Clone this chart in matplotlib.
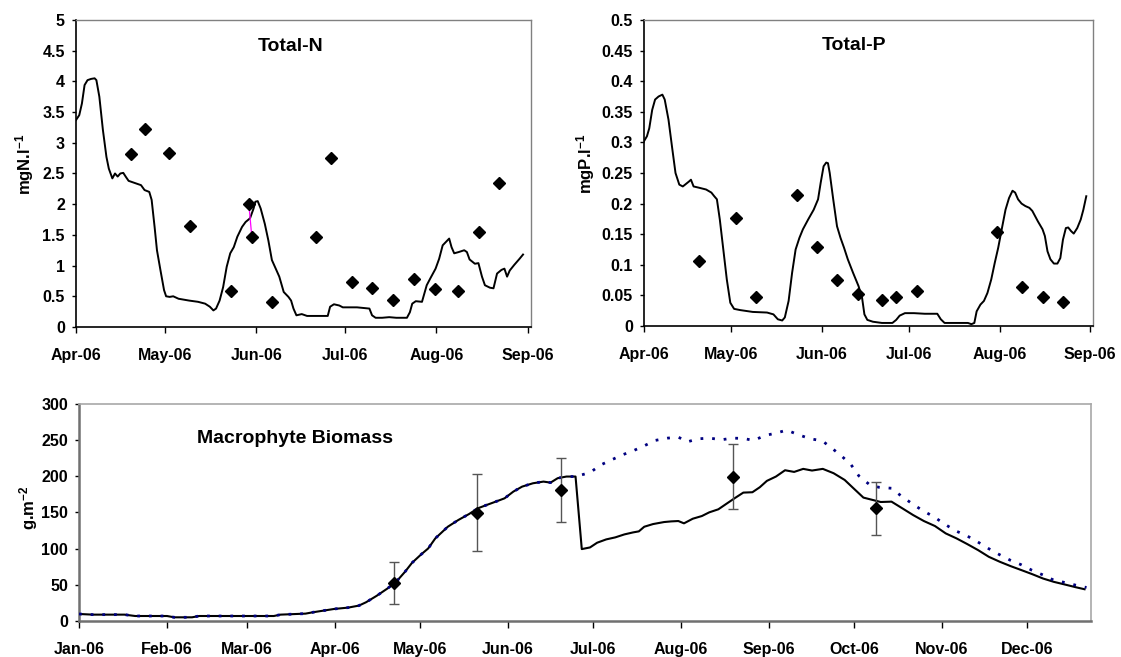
import numpy as np
import matplotlib
matplotlib.use("Agg")
import matplotlib.pyplot as plt
import matplotlib.dates as mdates
from datetime import datetime

plt.rcParams['font.family'] = ['Liberation Sans', 'DejaVu Sans']
plt.rcParams['font.weight'] = 'bold'
plt.rcParams['mathtext.fontset'] = 'custom'
plt.rcParams['mathtext.rm'] = 'Liberation Sans:bold'
plt.rcParams['mathtext.it'] = 'Liberation Sans:bold'
plt.rcParams['mathtext.bf'] = 'Liberation Sans:bold'
plt.rcParams['mathtext.default'] = 'rm'

# ---------------- Total-N (days after 1 Apr 2006) ----------------
tn_model_days = [0, 1.1, 2, 2.9, 3.9, 5.1, 6.3, 6.9, 7.9, 9.1, 10.3, 11.1, 12.3, 13.2, 14.1, 15.0,
                 16.0, 16.8, 17.8, 20.2, 22.0, 23.2, 24.8, 25.6, 26.6, 27.4, 28.6, 29.8, 30.5, 31.7,
                 32.9, 34.7, 38.3, 41.3, 43.7, 45.3, 46.5, 47.4, 48.6, 49.8, 51.0, 52.2, 53.4, 54.6,
                 56.2, 57.4, 58.9, 60.1, 60.7, 61.5, 62.5, 63.9, 65.1, 66.3, 67.6, 68.8, 70.3, 71.9,
                 72.8, 73.6, 74.6, 76.4, 78.2, 83.0, 85.2, 86.0, 87.3, 89.1, 90.3, 95.1, 99.3, 100.2,
                 101.4, 103.6, 106.0, 108.4, 112.0, 113.0, 113.8, 115.0, 117.1, 118.7, 119.9, 121.7,
                 122.9, 124.1, 125.3, 126.3, 127.1, 128.0, 129.5, 131.4, 132.3, 133.2, 135.0, 136.2,
                 137.4, 138.4, 140.1, 141.3, 142.5, 144.0, 145.0, 145.9, 146.8, 148.3, 150.1, 151.3]
tn_model = [3.37, 3.45, 3.64, 3.94, 4.02, 4.04, 4.05, 4.02, 3.75, 3.21, 2.77, 2.58, 2.42, 2.50, 2.45, 2.50,
            2.51, 2.45, 2.38, 2.34, 2.31, 2.23, 2.20, 2.07, 1.63, 1.25, 0.92, 0.60, 0.50, 0.49,
            0.50, 0.46, 0.43, 0.41, 0.38, 0.33, 0.27, 0.30, 0.43, 0.65, 0.98, 1.20, 1.30, 1.47,
            1.63, 1.71, 1.77, 1.93, 2.04, 2.05, 1.93, 1.68, 1.41, 1.09, 0.95, 0.82, 0.57, 0.49,
            0.43, 0.30, 0.19, 0.21, 0.18, 0.18, 0.18, 0.33, 0.37, 0.35, 0.32, 0.32, 0.30, 0.19,
            0.15, 0.15, 0.16, 0.15, 0.15, 0.24, 0.38, 0.42, 0.41, 0.68, 0.79, 0.95,
            1.11, 1.33, 1.39, 1.44, 1.30, 1.20, 1.22, 1.25, 1.22, 1.10, 1.03, 1.04,
            0.82, 0.68, 0.64, 0.63, 0.87, 0.93, 0.95, 0.82, 0.92, 1.01, 1.11, 1.18]
tn_obs_days = [18.5, 23.4, 31.5, 38.7, 52.3, 58.5, 59.5, 66.3, 81.1, 86.3, 93.4, 100.2, 107.3,
               114.3, 121.5, 129.2, 136.4, 143.2]
tn_obs = [2.82, 3.22, 2.84, 1.64, 0.59, 2.00, 1.47, 0.40, 1.46, 2.76, 0.74, 0.63, 0.44,
          0.78, 0.62, 0.59, 1.55, 2.35]

# ---------------- Total-P (days after 1 Apr 2006) ----------------
tp_model_days = [0, 1.0, 1.8, 2.8, 3.8, 5.0, 6.3, 7.1, 8.4, 9.6, 10.8, 12.1, 13.3, 14.1, 15.4, 16.1,
                 17.0, 18.8, 21.3, 23.1, 24.1, 25.0, 26.0, 27.2, 28.4, 29.6, 30.9, 33.0, 37.3, 42.2,
                 44.4, 45.9, 47.4, 48.3, 49.6, 50.8, 52.0, 53.3, 54.5, 56.3, 58.2, 59.7, 60.6, 61.6,
                 62.5, 63.1, 63.7, 64.9, 66.2, 67.4, 68.6, 69.9, 71.7, 73.6, 74.8, 75.6, 76.6, 78.5,
                 81.6, 85.2, 86.5, 87.7, 89.5, 92.6, 96.3, 100.6, 101.8, 103.1, 106.1, 111.1, 112.3,
                 113.3, 114.1, 115.4, 116.6, 117.8, 119.1, 120.3, 121.5, 122.7, 124.0, 125.2, 126.4,
                 127.3, 128.3, 129.5, 130.8, 132.2, 133.2, 135.1, 136.7, 137.5, 138.4, 139.4, 140.6,
                 141.8, 142.8, 143.7, 144.7, 145.5, 146.5, 147.4, 148.6, 149.8, 150.7, 151.7]
tp_model = [0.302, 0.310, 0.323, 0.353, 0.370, 0.375, 0.378, 0.370, 0.337, 0.293, 0.250, 0.231, 0.228,
            0.231, 0.236, 0.239, 0.228, 0.226, 0.223, 0.218, 0.212, 0.207, 0.174, 0.125, 0.076, 0.038,
            0.028, 0.026, 0.023, 0.022, 0.019, 0.011, 0.009, 0.014, 0.041, 0.087, 0.125, 0.144, 0.158,
            0.174, 0.190, 0.207, 0.234, 0.261, 0.267, 0.266, 0.250, 0.207, 0.163, 0.144, 0.128, 0.109,
            0.087, 0.065, 0.046, 0.019, 0.010, 0.007, 0.005, 0.005, 0.010, 0.017, 0.021, 0.021, 0.020,
            0.020, 0.011, 0.005, 0.005, 0.005, 0.003, 0.005, 0.024, 0.035, 0.041, 0.054, 0.076, 0.103,
            0.128, 0.158, 0.190, 0.209, 0.221, 0.218, 0.207, 0.200, 0.196, 0.193, 0.188, 0.171, 0.158,
            0.147, 0.122, 0.109, 0.102, 0.102, 0.111, 0.141, 0.160, 0.161, 0.155, 0.151, 0.160, 0.174,
            0.190, 0.212]
tp_obs_days = [18.7, 31.5, 38.5, 52.4, 59.3, 66.3, 73.3, 81.5, 86.6, 93.5, 121.2, 129.5, 136.7, 143.7]
tp_obs = [0.107, 0.177, 0.048, 0.214, 0.129, 0.075, 0.052, 0.043, 0.047, 0.057, 0.154, 0.064,
          0.048, 0.040]

# ---------------- Macrophyte biomass (days after 1 Jan 2006) ----------------
bm_common_days = [0, 4.8, 9.8, 16, 19.8, 31, 33.5, 39.8, 42.3, 68.6, 71, 79.8, 82.3, 89.8, 94.8,
                  98.6, 101.1, 104.8, 108.6, 111.7, 114.8, 117.3, 120.5, 123, 125.5, 129.9, 133.6,
                  137.4, 140.5, 143.6, 147.4, 149.9, 153, 156.1, 159.9, 163.6, 166.1, 168.6, 171.7,
                  174.9]
bm_common = [9.7, 8.8, 8.8, 8.8, 6.9, 6.9, 5.1, 5.1, 6.9, 6.9, 8.8, 10.2, 12.0, 16.6, 18.5,
             21.3, 25.9, 34.7, 44.8, 54.1, 67.9, 80.4, 92.0, 100.3, 114.2, 130.3, 139.6,
             147.9, 155.8, 160.4, 165.9, 169.6, 178.9, 185.8, 190.4, 192.7, 191.3, 197.4, 199.7,
             199.7]
# simulation with harvest (solid)
bm_harvest_days = [177.1, 180, 182.5, 185.7, 188.9, 192.1, 195.2, 197.2, 199.1, 202.2, 206.1, 208.6,
                   211.1, 213.1, 216.2, 219.4, 222, 225.2, 228.3, 230.9, 234, 237.2, 239.8, 242.3,
                   245.5, 248.7, 251.9, 255.1, 258.2, 262, 265.8, 269.7, 272.8, 276.3, 278.6, 282.4,
                   286.2, 290, 293.8, 297.6, 301.5, 305.3, 309.1, 312.9, 316.7, 320.5, 324.4, 328.2,
                   332, 335.8, 339.6, 343.4, 347.3, 351.1, 354.2]
bm_harvest = [99.4, 101.7, 108.2, 112.8, 115.6, 119.7, 122.5, 123.9, 130.3, 134.0, 136.8, 137.7,
              138.2, 135.0, 141.4, 145.1, 150.2, 154.4, 162.7, 169.6, 177.5, 178.0, 184.9, 193.7,
              199.7, 208.4, 206.1, 210.3, 208.0, 210.3, 204.3, 195.0, 183.5, 170.6, 168.3, 164.5,
              165.0, 155.8, 146.5, 138.2, 131.3, 121.1, 114.2, 106.3, 98.0, 88.7, 81.8, 75.8,
              70.3, 64.7, 58.7, 54.1, 50.4, 46.7, 43.9]
# simulation without harvest (dotted)
bm_noharvest_days = [180, 183.8, 187.6, 191.4, 195.2, 199.1, 202.9, 207.3, 211.1, 214.3, 218.1, 222.3,
                     226.2, 230.2, 234, 237.6, 241.7, 245.5, 249.3, 253.4, 257.6, 261.8, 265.2, 268.8,
                     272, 274.7, 278.6, 281.7, 286.2, 289.6, 293.6, 297.4, 301.1, 304.9, 308.7, 312.7,
                     316.5, 320.3, 324.1, 328, 331.7, 335.6, 339.7, 343.4, 347.3, 351.1, 354.9]
bm_noharvest = [205.2, 215.8, 222.8, 229.7, 235.3, 242.2, 249.6, 252.8, 254.2, 247.7, 251.9, 252.8,
                250.5, 252.8, 252.4, 249.6, 256.5, 259.7, 263.9, 257.5, 251.9, 249.1, 238.9, 227.4,
                215.8, 200.6, 188.1, 184.9, 183.5, 172.9, 161.8, 152.1, 144.2, 134.0, 124.8, 117.9,
                109.5, 100.3, 92.0, 84.1, 78.1, 70.3, 63.4, 56.4, 53.2, 49.5, 46.3]
bm_obs_days = [110.8, 140.2, 169.8, 230.4, 280.7]
bm_obs = [52.7, 149.8, 181.2, 199.2, 155.8]
bm_obs_err = [29, 53, 44, 45, 37]


def to_dates(base, days):
    return mdates.date2num(base) + np.asarray(days, dtype=float)


apr1 = datetime(2006, 4, 1)
jan1 = datetime(2006, 1, 1)

fig = plt.figure(figsize=(11.21, 6.57), dpi=100)
ax_n = fig.add_axes([0.0678, 0.5023, 0.4059, 0.4673])
ax_p = fig.add_axes([0.5745, 0.5038, 0.4005, 0.4658])
ax_b = fig.add_axes([0.0705, 0.0548, 0.9028, 0.3303])

tick_font = dict(fontsize=11.5, fontweight='bold')


def style_top(ax):
    for side in ('left', 'bottom'):
        ax.spines[side].set_color('black')
        ax.spines[side].set_linewidth(1.2)
    for side in ('top', 'right'):
        ax.spines[side].set_color('#808080')
        ax.spines[side].set_linewidth(1.0)
    ax.tick_params(axis='x', direction='out', length=4, width=1, pad=11, labelsize=11.5)
    ax.tick_params(axis='y', direction='out', length=3, width=1, pad=5, labelsize=11.5)
    ax.xaxis.set_major_locator(mdates.MonthLocator())
    ax.xaxis.set_major_formatter(mdates.DateFormatter('%b-%y'))
    ax.set_xlim(to_dates(apr1, [0, 154]))
    for lab in ax.get_xticklabels() + ax.get_yticklabels():
        lab.set_fontweight('bold')


def fmt_num(v, _pos=None):
    s = ('%.2f' % v).rstrip('0').rstrip('.')
    return s


# Total-N
ax_n.plot(to_dates(apr1, tn_model_days), tn_model, color='black', lw=1.4, zorder=2)
obs_n_x = to_dates(apr1, tn_obs_days)
for i in range(len(tn_obs_days) - 1):
    if tn_obs_days[i + 1] - tn_obs_days[i] <= 1.5:
        ax_n.plot(obs_n_x[i:i + 2], tn_obs[i:i + 2], color='#FF00FF', lw=0.9, zorder=3)
ax_n.plot(obs_n_x, tn_obs, linestyle='none', marker='D', ms=6.5, color='black', zorder=4)
ax_n.set_ylim(0, 5)
ax_n.set_yticks(np.arange(0, 5.01, 0.5))
ax_n.yaxis.set_major_formatter(plt.FuncFormatter(fmt_num))
style_top(ax_n)
ax_n.text(0.471, 0.914, 'Total-N', transform=ax_n.transAxes, ha='center', va='center',
          fontsize=14, fontweight='bold')
ax_n.set_ylabel(r'mgN.l$^{-1}$', fontsize=12, fontweight='bold', va='center')
ax_n.yaxis.set_label_coords(-0.112, 0.53)

# Total-P
ax_p.plot(to_dates(apr1, tp_model_days), tp_model, color='black', lw=1.4, zorder=2)
ax_p.plot(to_dates(apr1, tp_obs_days), tp_obs, linestyle='none', marker='D', ms=6.5,
          color='black', zorder=4)
ax_p.set_ylim(0, 0.5)
ax_p.set_yticks(np.arange(0, 0.501, 0.05))
ax_p.yaxis.set_major_formatter(plt.FuncFormatter(fmt_num))
style_top(ax_p)
ax_p.text(0.468, 0.915, 'Total-P', transform=ax_p.transAxes, ha='center', va='center',
          fontsize=14, fontweight='bold')
ax_p.set_ylabel(r'mgP.l$^{-1}$', fontsize=12, fontweight='bold', va='center')
ax_p.yaxis.set_label_coords(-0.131, 0.53)

# Macrophyte biomass
solid_days = list(bm_common_days) + list(bm_harvest_days)
solid_vals = list(bm_common) + list(bm_harvest)
dotted_days = list(bm_common_days) + list(bm_noharvest_days)
dotted_vals = list(bm_common) + list(bm_noharvest)
ax_b.plot(to_dates(jan1, solid_days), solid_vals, color='black', lw=1.5, zorder=2)
ax_b.plot(to_dates(jan1, dotted_days), dotted_vals, color='#000080', lw=2.0,
          linestyle=(0, (1, 3.2)), zorder=3)
ax_b.errorbar(to_dates(jan1, bm_obs_days), bm_obs, yerr=bm_obs_err, fmt='D', ms=6.5,
              color='black', ecolor='#555555', elinewidth=1.0, capsize=3.5, capthick=1.0,
              zorder=4)
ax_b.set_ylim(0, 300)
ax_b.set_yticks(np.arange(0, 301, 50))
ax_b.set_xlim(to_dates(jan1, [0, 356.5]))
ax_b.xaxis.set_major_locator(mdates.MonthLocator())
ax_b.xaxis.set_major_formatter(mdates.DateFormatter('%b-%y'))
for side in ('left', 'bottom'):
    ax_b.spines[side].set_color('#707070')
    ax_b.spines[side].set_linewidth(1.8)
for side in ('top', 'right'):
    ax_b.spines[side].set_color('#A8A8A8')
    ax_b.spines[side].set_linewidth(1.2)
ax_b.tick_params(axis='x', direction='out', length=5, width=1, pad=10, labelsize=11.5)
ax_b.tick_params(axis='y', direction='out', length=3, width=1, pad=5, labelsize=11.5)
for lab in ax_b.get_xticklabels() + ax_b.get_yticklabels():
    lab.set_fontweight('bold')
ax_b.text(0.213, 0.839, 'Macrophyte Biomass', transform=ax_b.transAxes, ha='center',
          va='center', fontsize=14, fontweight='bold')
ax_b.set_ylabel(r'g.m$^{-2}$', fontsize=12, fontweight='bold', va='center')
ax_b.yaxis.set_label_coords(-0.05, 0.52)

fig.savefig('out.png', dpi=100, facecolor='white')
